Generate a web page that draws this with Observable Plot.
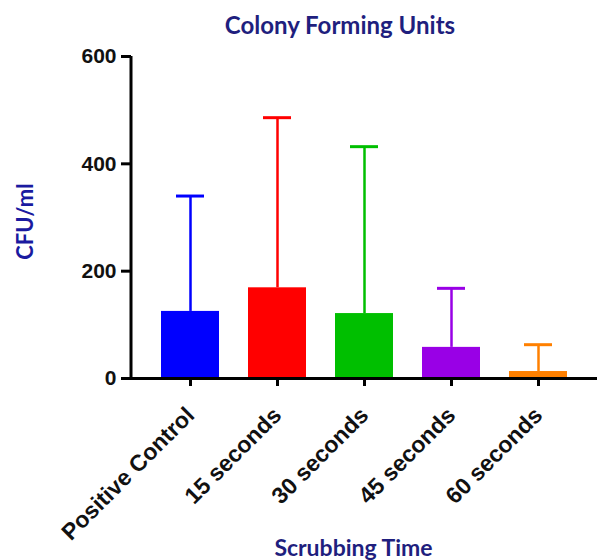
<!DOCTYPE html>
<html>
<head>
<meta charset="utf-8">
<script src="https://cdn.jsdelivr.net/npm/d3@7"></script>
<script src="https://cdn.jsdelivr.net/npm/@observablehq/plot@0.6"></script>
<style>
  body { margin: 0; background: #fff; }
  #title { position: relative; width: 597px; height: 40px; }
  #title span {
    position: absolute; left: 340px; top: 11px; transform: translateX(-50%);
    font-family: Lato, "Open Sans", sans-serif; font-weight: bold; font-size: 24px;
    line-height: 28px; color: #1f1f7e; white-space: nowrap;
  }
  #chart svg { display: block; }
</style>
</head>
<body>
<div id="title"><span>Colony Forming Units</span></div>
<div id="chart"></div>
<script>
const categories = ["Positive Control", "15 seconds", "30 seconds", "45 seconds", "60 seconds"];
const means = [125, 169, 121, 58, 13];
const upperErrors = [340, 486, 432, 168, 63];
const yTicks = [0, 200, 400, 600];
const yLabel = "CFU/ml";
const xLabel = "Scrubbing Time";

const palette = ["#0000ff", "#ff0000", "#00bf00", "#9900e6", "#ff8000"];

const data = categories.map((c, i) => ({cat: c, mean: means[i], upper: upperErrors[i]}));

const tickFont = "'Liberation Sans', Arial, sans-serif";
const labelFont = "Lato, 'Open Sans', sans-serif";

const yAxisLine = (index, scales, values, dimensions) => {
  const line = d3.create("svg:line")
    .attr("x1", dimensions.marginLeft)
    .attr("x2", dimensions.marginLeft)
    .attr("y1", scales.y(600))
    .attr("y2", scales.y(0) + 1.5)
    .attr("stroke", "#000")
    .attr("stroke-width", 3);
  return line.node();
};

const chart = Plot.plot({
  width: 597,
  height: 520,
  marginTop: 16,
  marginBottom: 182,
  marginLeft: 131,
  marginRight: 0,
  x: {domain: categories, paddingInner: 0.33, paddingOuter: 0.343, axis: null},
  y: {domain: [0, 600], axis: null},
  color: {domain: categories, range: palette},
  style: {background: "#fff", overflow: "visible", color: "#000"},
  marks: [
    Plot.ruleX(data, {x: "cat", y1: "mean", y2: "upper", stroke: "cat", strokeWidth: 2.5}),
    Plot.tickY(data, {x: "cat", y: "upper", stroke: "cat", strokeWidth: 3, insetLeft: 15, insetRight: 15}),
    Plot.barY(data, {x: "cat", y: "mean", fill: "cat"}),
    Plot.axisY({ticks: yTicks, tickSize: 10, tickPadding: 5, strokeWidth: 3, fontSize: 21, fontWeight: "bold", fontFamily: tickFont, fill: "#111", label: null, tickFormat: d => String(d)}),
    Plot.axisX({tickSize: 8, strokeWidth: 3, tickRotate: -45, tickPadding: 25, fontSize: 23, fontWeight: "bold", fontFamily: tickFont, fill: "#111", label: null}),
    Plot.ruleY([0], {strokeWidth: 3, stroke: "#000"}),
    yAxisLine,
    Plot.text([xLabel], {text: d => d, frameAnchor: "bottom", dy: 177, dx: -11, fontSize: 23, fontWeight: "bold", fontFamily: labelFont, fill: "#1f1f7e"}),
    Plot.text([yLabel], {text: d => d, frameAnchor: "left", textAnchor: "middle", rotate: -90, dx: -106, dy: 4, fontSize: 22, fontWeight: "bold", fontFamily: labelFont, fill: "#1a1aa0"})
  ]
});

document.getElementById("chart").appendChild(chart);
</script>
</body>
</html>
